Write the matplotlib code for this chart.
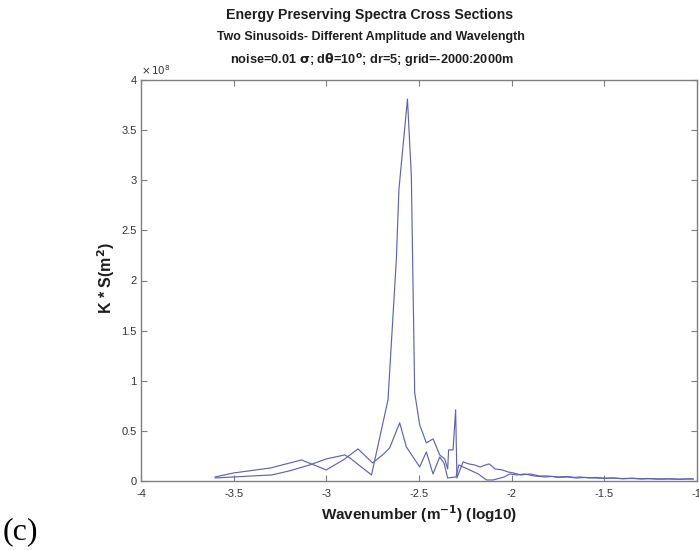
#!/usr/bin/env python3
"""Energy preserving spectra cross sections, two sinusoids case (panel c)."""

import matplotlib

matplotlib.use("Agg")
import matplotlib.pyplot as plt
from matplotlib.ticker import FixedLocator, FormatStrFormatter

# values, spectrum in units of 1e8
WAVENUM_A = [
    -3.60, -3.50, -3.40, -3.295, -3.20, -3.089, -3.00, -2.90, -2.873, -2.756,
    -2.667, -2.622, -2.608, -2.562, -2.541, -2.523, -2.496, -2.46, -2.424, -2.388,
    -2.361, -2.345, -2.340, -2.316, -2.302, -2.295, -2.262, -2.23, -2.20, -2.17,
    -2.14, -2.12, -2.09, -2.05, -2.02, -1.99, -1.95, -1.90, -1.85, -1.81,
    -1.75, -1.70, -1.66, -1.63, -1.58, -1.55, -1.50, -1.45, -1.40, -1.35,
    -1.30, -1.27, -1.22, -1.15, -1.10, -1.05, -1.02,
]
SPEC_A = [
    0.03, 0.04, 0.05, 0.06, 0.10, 0.16, 0.22, 0.26, 0.23, 0.06,
    0.81, 2.21, 2.91, 3.81, 3.04, 0.88, 0.56, 0.38, 0.42, 0.26,
    0.22, 0.12, 0.31, 0.31, 0.71, 0.03, 0.19, 0.17, 0.16, 0.14,
    0.16, 0.17, 0.12, 0.11, 0.09, 0.08, 0.06, 0.07, 0.05, 0.05,
    0.04, 0.045, 0.035, 0.04, 0.03, 0.035, 0.028, 0.03, 0.024, 0.028,
    0.022, 0.025, 0.02, 0.022, 0.018, 0.021, 0.02,
]

WAVENUM_B = [
    -3.60, -3.50, -3.30, -3.134, -3.00, -2.90, -2.829, -2.75, -2.69, -2.658,
    -2.604, -2.568, -2.496, -2.46, -2.424, -2.388, -2.365, -2.345, -2.30, -2.285,
    -2.262, -2.226, -2.18, -2.136, -2.10, -2.08, -2.04, -2.01, -1.97, -1.93,
    -1.88, -1.82, -1.78, -1.75, -1.70, -1.65, -1.60, -1.55, -1.50, -1.45,
    -1.40, -1.35, -1.30, -1.25, -1.20, -1.15, -1.10, -1.05, -1.02,
]
SPEC_B = [
    0.04, 0.08, 0.13, 0.21, 0.11, 0.22, 0.32, 0.18, 0.27, 0.33,
    0.58, 0.34, 0.14, 0.29, 0.07, 0.24, 0.18, 0.03, 0.04, 0.16,
    0.14, 0.11, 0.07, 0.01, 0.01, 0.02, 0.04, 0.07, 0.06, 0.07,
    0.05, 0.04, 0.045, 0.035, 0.04, 0.03, 0.035, 0.03, 0.025, 0.028,
    0.022, 0.025, 0.02, 0.023, 0.018, 0.02, 0.017, 0.02, 0.02,
]

X_TICKS = [-4, -3.5, -3, -2.5, -2, -1.5, -1]
Y_TICKS = [0, 0.5, 1, 1.5, 2, 2.5, 3, 3.5, 4]

LINE_COLOR = "#6262b4"
AXIS_COLOR = "#7f7f7f"
TEXT_COLOR = "#1e1e1e"

plt.rcParams["font.family"] = ["Liberation Sans", "DejaVu Sans"]


def main() -> None:
    fig = plt.figure(figsize=(6.99, 5.50), dpi=100)
    ax = fig.add_axes([0.2017, 0.1255, 0.7953, 0.7290])

    ax.plot(WAVENUM_A, SPEC_A, color=LINE_COLOR, lw=0.85)
    ax.plot(WAVENUM_B, SPEC_B, color=LINE_COLOR, lw=0.85)

    ax.set_xlim(-4, -1)
    ax.set_ylim(0, 4)
    ax.xaxis.set_major_locator(FixedLocator(X_TICKS))
    ax.yaxis.set_major_locator(FixedLocator(Y_TICKS))
    ax.xaxis.set_major_formatter(FormatStrFormatter("%g"))
    ax.yaxis.set_major_formatter(FormatStrFormatter("%g"))
    ax.tick_params(which="both", direction="in", top=True, right=True,
                   length=4, width=0.8, color=AXIS_COLOR, labelsize=8,
                   labelcolor="#333333")
    ax.tick_params(axis="x", pad=6)
    ax.tick_params(axis="y", pad=3)
    for spine in ax.spines.values():
        spine.set_color(AXIS_COLOR)
        spine.set_linewidth(1.0)

    ax.text(0.0, 1.008, r"$\times\,10^{8}$", transform=ax.transAxes,
            fontsize=7.5, color="#333333", ha="left", va="bottom")

    ax.set_xlabel(r"Wavenumber (m$^{\mathbf{-1}}$) (log10)", fontsize=11,
                  fontweight="bold", color=TEXT_COLOR)
    ax.xaxis.set_label_coords(0.5, -0.055)
    ax.set_ylabel(r"K * S(m$^{\mathbf{2}}$)", fontsize=11.5, fontweight="bold",
                  color=TEXT_COLOR)
    ax.yaxis.set_label_coords(-0.044, 0.505)

    fig.text(0.529, 0.972, "Energy Preserving Spectra Cross Sections",
             ha="center", va="center", fontsize=10.2, fontweight="bold",
             color=TEXT_COLOR)
    fig.text(0.530, 0.932, "Two Sinusoids- Different Amplitude and Wavelength",
             ha="center", va="center", fontsize=8.9, fontweight="bold",
             color=TEXT_COLOR)
    fig.text(0.532, 0.892,
             r"noise=0.01 $\mathbf{\sigma}$; d$\mathbf{\theta}$=10$^{\mathbf{o}}$; "
             r"dr=5; grid=-2000:2000m",
             ha="center", va="center", fontsize=9.2, fontweight="bold",
             color=TEXT_COLOR)

    fig.text(0.004, 0.034, "(c)", ha="left", va="center", fontsize=23,
             family=["Liberation Serif", "DejaVu Serif"])

    fig.savefig("out.png", dpi=100)
    plt.close(fig)


if __name__ == "__main__":
    main()
